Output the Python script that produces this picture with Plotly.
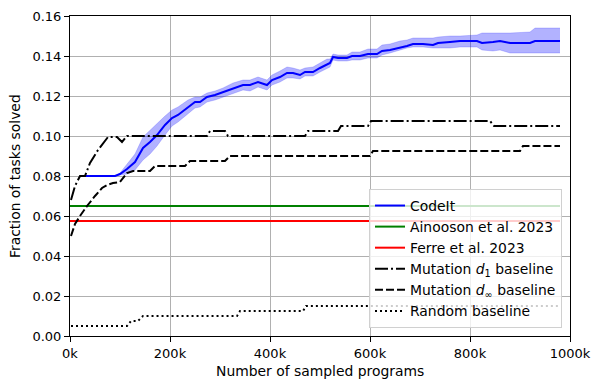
import plotly.graph_objects as go

# sampled programs, in thousands
codeit_x = [25, 90, 100, 114, 130, 146, 160, 174, 190, 204, 216, 236, 250, 260, 274, 290,
            306, 326, 346, 360, 376, 394, 404, 420, 434, 446, 460, 470, 486, 500, 514, 520,
            526, 536, 554, 564, 580, 596, 614, 624, 640, 660, 674, 686, 706, 726, 736, 760,
            780, 814, 824, 846, 860, 880, 920, 930, 980]
codeit_mean = [0.080, 0.080, 0.081, 0.0835, 0.087, 0.094, 0.097, 0.1005, 0.1055, 0.109, 0.1105,
               0.1145, 0.117, 0.117, 0.1195, 0.1205, 0.122, 0.124, 0.1255, 0.1255, 0.127, 0.1255,
               0.128, 0.1295, 0.1315, 0.1315, 0.1305, 0.132, 0.132, 0.134, 0.136, 0.1365, 0.1395,
               0.139, 0.139, 0.140, 0.140, 0.141, 0.141, 0.1425, 0.143, 0.144, 0.145, 0.146, 0.146,
               0.1455, 0.1465, 0.147, 0.1475, 0.1475, 0.1465, 0.147, 0.1475, 0.1465, 0.1465,
               0.1475, 0.1475]
codeit_upper = [0.080, 0.080, 0.0815, 0.086, 0.091, 0.0995, 0.103, 0.106, 0.110, 0.113, 0.1145,
                0.118, 0.1195, 0.1195, 0.1215, 0.1225, 0.124, 0.1265, 0.128, 0.128, 0.1295, 0.128,
                0.1305, 0.1325, 0.1345, 0.134, 0.133, 0.134, 0.1345, 0.1365, 0.1385, 0.1385, 0.141,
                0.1405, 0.1405, 0.142, 0.142, 0.1435, 0.1435, 0.1455, 0.146, 0.1475, 0.148, 0.149,
                0.149, 0.149, 0.1495, 0.150, 0.150, 0.1505, 0.1515, 0.1515, 0.1515, 0.1515, 0.152,
                0.154, 0.154]
codeit_lower = [0.080, 0.080, 0.0805, 0.081, 0.083, 0.088, 0.091, 0.095, 0.1005, 0.105, 0.107,
                0.111, 0.114, 0.1145, 0.117, 0.118, 0.1195, 0.1215, 0.123, 0.1225, 0.1245, 0.123,
                0.1255, 0.127, 0.129, 0.129, 0.1285, 0.130, 0.130, 0.132, 0.134, 0.1345, 0.138,
                0.1375, 0.1375, 0.138, 0.138, 0.139, 0.139, 0.1405, 0.1415, 0.143, 0.144, 0.1445,
                0.1445, 0.144, 0.144, 0.144, 0.1445, 0.1445, 0.143, 0.1425, 0.143, 0.1415, 0.1415,
                0.1415, 0.1415]

ref_x = [0, 980]
ainooson = [0.065, 0.065]
ferre = [0.0575, 0.0575]

d1_x = [2, 10, 20, 30, 40, 56, 76, 94, 104, 114, 274, 280, 310, 316, 470, 476, 536, 542,
        596, 602, 840, 848, 980]
d1_y = [0.068, 0.075, 0.08, 0.08, 0.0865, 0.093, 0.0995, 0.0995, 0.097, 0.1, 0.1, 0.1025,
        0.1025, 0.1, 0.1, 0.1025, 0.1025, 0.105, 0.105, 0.1075, 0.1075, 0.105, 0.105]

dinf_x = [2, 10, 20, 34, 50, 64, 74, 86, 100, 114, 126, 160, 170, 230, 240, 310, 320, 600,
          606, 900, 906, 980]
dinf_y = [0.05, 0.056, 0.06, 0.065, 0.07, 0.074, 0.0755, 0.0765, 0.077, 0.0815, 0.0825,
          0.0825, 0.085, 0.085, 0.0875, 0.0875, 0.09, 0.09, 0.0925, 0.0925, 0.095, 0.095]

rand_x = [2, 114, 122, 136, 146, 334, 340, 466, 472, 980]
rand_y = [0.005, 0.005, 0.0075, 0.0075, 0.01, 0.01, 0.0125, 0.0125, 0.015, 0.015]

x_ticks = [0, 200, 400, 600, 800, 1000]
x_labels = ["0k", "200k", "400k", "600k", "800k", "1000k"]
y_ticks = [0.00, 0.02, 0.04, 0.06, 0.08, 0.10, 0.12, 0.14, 0.16]
y_labels = ["0.00", "0.02", "0.04", "0.06", "0.08", "0.10", "0.12", "0.14", "0.16"]

# matplotlib-like dash patterns
DASHDOT = "13px,3px,2px,3px"
DASH = "8px,3px"
DOT = "2px,3px"

fig = go.Figure()

# confidence band
fig.add_trace(go.Scatter(x=codeit_x, y=codeit_upper, mode="lines",
                         line=dict(width=0.5, color="rgba(0,0,255,0.35)"),
                         showlegend=False, hoverinfo="skip"))
fig.add_trace(go.Scatter(x=codeit_x, y=codeit_lower, mode="lines",
                         line=dict(width=0.5, color="rgba(0,0,255,0.35)"),
                         fill="tonexty", fillcolor="rgba(0,0,255,0.3)",
                         showlegend=False, hoverinfo="skip"))

fig.add_trace(go.Scatter(x=codeit_x, y=codeit_mean, mode="lines", name="CodeIt",
                         line=dict(color="blue", width=2)))
fig.add_trace(go.Scatter(x=ref_x, y=ainooson, mode="lines", name="Ainooson et al. 2023",
                         line=dict(color="green", width=2)))
fig.add_trace(go.Scatter(x=ref_x, y=ferre, mode="lines", name="Ferre et al. 2023",
                         line=dict(color="red", width=2)))
fig.add_trace(go.Scatter(x=d1_x, y=d1_y, mode="lines", name="Mutation <i>d</i><sub>1</sub> baseline",
                         line=dict(color="black", width=2, dash=DASHDOT)))
fig.add_trace(go.Scatter(x=dinf_x, y=dinf_y, mode="lines",
                         name="Mutation <i>d</i><sub>∞</sub> baseline",
                         line=dict(color="black", width=2, dash=DASH)))
fig.add_trace(go.Scatter(x=rand_x, y=rand_y, mode="lines", name="Random baseline",
                         line=dict(color="black", width=2, dash=DOT)))

axis_common = dict(showgrid=True, gridcolor="#b0b0b0", gridwidth=1, showline=True,
                   linecolor="black", linewidth=1, mirror=True, ticks="outside",
                   ticklen=5, tickcolor="black", zeroline=False, automargin=False,
                   tickfont=dict(size=13))

fig.update_xaxes(range=[0, 1000], tickvals=x_ticks, ticktext=x_labels, **axis_common)
fig.update_yaxes(range=[0, 0.16], tickvals=y_ticks, ticktext=y_labels, **axis_common)

# axis titles placed by hand so they sit where the reference has them
fig.add_annotation(text="Number of sampled programs", xref="paper", yref="paper",
                   x=0.5, y=-0.109, xanchor="center", yanchor="middle",
                   showarrow=False, font=dict(size=13.9))
fig.add_annotation(text="Fraction of tasks solved", xref="paper", yref="paper",
                   x=-0.11, y=0.5, xanchor="center", yanchor="middle", textangle=-90,
                   showarrow=False, font=dict(size=13.9))

fig.update_layout(
    width=592, height=382,
    margin=dict(l=62, r=30, t=8, b=54),
    plot_bgcolor="white", paper_bgcolor="white",
    font=dict(family="DejaVu Sans", size=13, color="black"),
    legend=dict(x=0.984, y=0.025, xanchor="right", yanchor="bottom", traceorder="normal",
                bgcolor="rgba(255,255,255,0.8)", bordercolor="#d0d0d0", borderwidth=1,
                font=dict(size=13.9), tracegroupgap=0, itemwidth=30),
    showlegend=True,
)

fig.write_html("out.html")
